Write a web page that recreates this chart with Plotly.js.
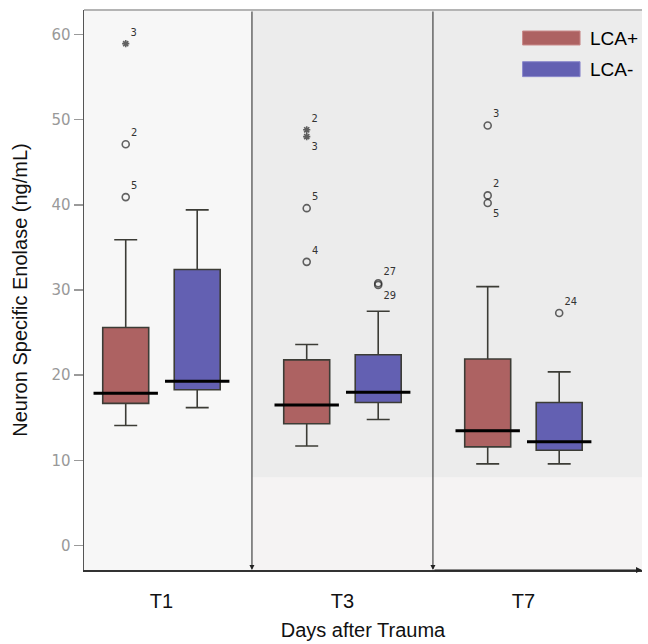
<!DOCTYPE html>
<html>
<head>
<meta charset="utf-8">
<script src="https://cdn.plot.ly/plotly-3.0.1.min.js"></script>
<style>html,body{margin:0;padding:0;background:#fff}#chart{width:648px;height:644px}</style>
</head>
<body>
<div id="chart"></div>
<script>
// ---- data ----
const categories = ["T1", "T3", "T7"];
const groups = ["LCA+", "LCA-"];

// LCA+ box statistics (ng/mL)
const posUpper  = [35.9, 23.6, 30.4];
const posQ3     = [25.6, 21.8, 21.9];
const posMedian = [17.9, 16.5, 13.5];
const posQ1     = [16.7, 14.3, 11.6];
const posLower  = [14.1, 11.7, 9.6];

// LCA- box statistics (ng/mL)
const negUpper  = [39.4, 27.5, 20.4];
const negQ3     = [32.4, 22.4, 16.8];
const negMedian = [19.3, 18.0, 12.2];
const negQ1     = [18.3, 16.8, 11.2];
const negLower  = [16.2, 14.8, 9.6];

// outliers: category, value, case label, extreme (star)
const posOutCat   = ["T1", "T1", "T1", "T3", "T3", "T3", "T3", "T7", "T7", "T7"];
const posOutVal   = [58.9, 47.1, 40.9, 48.8, 48.0, 39.6, 33.3, 49.3, 41.1, 40.2];
const posOutLabel = ["3", "2", "5", "2", "3", "5", "4", "3", "2", "5"];
const posOutStar  = [true, false, false, true, true, false, false, false, false, false];
const posOutBelow = [false, false, false, false, true, false, false, false, false, true];

const negOutCat   = ["T3", "T3", "T7"];
const negOutVal   = [30.8, 30.6, 27.3];
const negOutLabel = ["27", "29", "24"];
const negOutStar  = [false, false, false];
const negOutBelow = [false, true, false];

const yTicks = [0, 10, 20, 30, 40, 50, 60];

// ---- styling ----
const redFill = "#ad6262";
const blueFill = "#6360b2";
const FONT = "Liberation Sans, Arial, sans-serif";
const yRange = [-2.85, 62.85];
const xRange = [-0.428, 2.655];

function boxTrace(name, fill, up, q3, med, q1, lo, og) {
  return {
    type: "box", name: name, x: categories,
    upperfence: up, q3: q3, median: med, q1: q1, lowerfence: lo,
    boxpoints: false, fillcolor: fill,
    line: {color: "#3c3c36", width: 1.6},
    whiskerwidth: 0.5, offsetgroup: og, showlegend: false, hoverinfo: "skip"
  };
}
function medianTrace(med, og) {
  return {
    type: "scatter", mode: "markers", x: categories, y: med,
    offsetgroup: og, showlegend: false, hoverinfo: "skip",
    marker: {symbol: "line-ew-open", size: 46, color: "#000", line: {color: "#000", width: 3}}
  };
}
function outlierTrace(cat, val, lab, star, below, og) {
  return {
    type: "scatter", mode: "markers+text", x: cat, y: val, text: lab,
    textposition: below.map(b => b ? "bottom right" : "top right"),
    textfont: {family: "DejaVu Sans Condensed, DejaVu Sans", size: 11, color: "#333"},
    offsetgroup: og, showlegend: false, hoverinfo: "skip", cliponaxis: false,
    marker: {
      symbol: star.map(s => s ? "asterisk-open" : "circle-open"),
      size: star.map(s => s ? 6 : 7),
      color: "#222", line: {color: "#222", width: 1.6}
    }
  };
}

const data = [
  boxTrace(groups[0], redFill, posUpper, posQ3, posMedian, posQ1, posLower, "pos"),
  boxTrace(groups[1], blueFill, negUpper, negQ3, negMedian, negQ1, negLower, "neg"),
  medianTrace(posMedian, "pos"),
  medianTrace(negMedian, "neg"),
  outlierTrace(posOutCat, posOutVal, posOutLabel, posOutStar, posOutBelow, "pos"),
  outlierTrace(negOutCat, negOutVal, negOutLabel, negOutStar, negOutBelow, "neg")
];

const shapes = [
  // panel backgrounds
  {type: "rect", xref: "x", yref: "paper", x0: xRange[0], x1: 0.5, y0: 0, y1: 1, fillcolor: "#f7f7f7", line: {width: 0}, layer: "below"},
  {type: "rect", xref: "x", yref: "y", x0: 0.5, x1: xRange[1], y0: 8, y1: yRange[1], fillcolor: "#ececec", line: {width: 0}, layer: "below"},
  {type: "rect", xref: "x", yref: "y", x0: 0.5, x1: xRange[1], y0: yRange[0], y1: 8, fillcolor: "#f5f3f3", line: {width: 0}, layer: "below"},
  // top frame
  {type: "line", xref: "paper", yref: "paper", x0: 0, x1: 1, y0: 1, y1: 1, line: {color: "#b4b4b4", width: 2}},
  // manual legend swatches
  {type: "rect", xref: "paper", yref: "paper", x0: 0.786, x1: 0.889, y0: 0.9375, y1: 0.9625, fillcolor: redFill, line: {color: "#c98a8a", width: 1}},
  {type: "rect", xref: "paper", yref: "paper", x0: 0.786, x1: 0.889, y0: 0.881, y1: 0.9077, fillcolor: blueFill, line: {color: "#8a88cc", width: 1}}
];

const annotations = [
  // panel dividers with arrowheads at the bottom
  {x: 0.5, y: yRange[0], ax: 0.5, ay: yRange[1], xref: "x", yref: "y", axref: "x", ayref: "y", text: "", showarrow: true, arrowhead: 2, arrowsize: 1, arrowwidth: 1, arrowcolor: "#222"},
  {x: 1.5, y: yRange[0], ax: 1.5, ay: yRange[1], xref: "x", yref: "y", axref: "x", ayref: "y", text: "", showarrow: true, arrowhead: 2, arrowsize: 1, arrowwidth: 1, arrowcolor: "#222"},
  // x-axis arrow to the right
  {x: xRange[1], y: yRange[0], ax: 1.5, ay: yRange[0], xref: "x", yref: "y", axref: "x", ayref: "y", text: "", showarrow: true, arrowhead: 2, arrowsize: 1, arrowwidth: 1.2, arrowcolor: "#222"},
  // legend labels
  {xref: "paper", yref: "paper", x: 0.903, y: 0.95, xanchor: "left", yanchor: "middle", text: groups[0], showarrow: false, font: {family: FONT, size: 19, color: "#000"}},
  {xref: "paper", yref: "paper", x: 0.903, y: 0.8946, xanchor: "left", yanchor: "middle", text: groups[1], showarrow: false, font: {family: FONT, size: 19, color: "#000"}}
];

const layout = {
  width: 648, height: 644,
  margin: {l: 84, r: 6, t: 10, b: 74},
  paper_bgcolor: "#ffffff", plot_bgcolor: "#f7f7f7",
  boxmode: "group", boxgap: 0.21, boxgroupgap: 0.357,
  scattermode: "group", scattergap: 0.21,
  showlegend: false,
  font: {family: FONT},
  xaxis: {
    type: "category", range: xRange, showgrid: false, zeroline: false,
    showline: true, linecolor: "#333", linewidth: 1.5,
    ticks: "", ticklabelstandoff: 12,
    tickfont: {family: FONT, size: 20, color: "#111"},
    title: {text: "Days after Trauma", font: {family: FONT, size: 20, color: "#111"}, standoff: 12}
  },
  yaxis: {
    range: yRange, tickvals: yTicks, showgrid: false, zeroline: false,
    showline: true, linecolor: "#555", linewidth: 1.5,
    ticks: "outside", ticklen: 9, tickwidth: 1.5, tickcolor: "#9a9a9a",
    tickfont: {family: "DejaVu Sans", size: 15, color: "#999"},
    title: {text: "Neuron Specific Enolase (ng/mL)", font: {family: FONT, size: 20, color: "#111"}, standoff: 18}
  },
  shapes: shapes,
  annotations: annotations
};

Plotly.newPlot("chart", data, layout, {displayModeBar: false, staticPlot: true});
</script>
</body>
</html>
